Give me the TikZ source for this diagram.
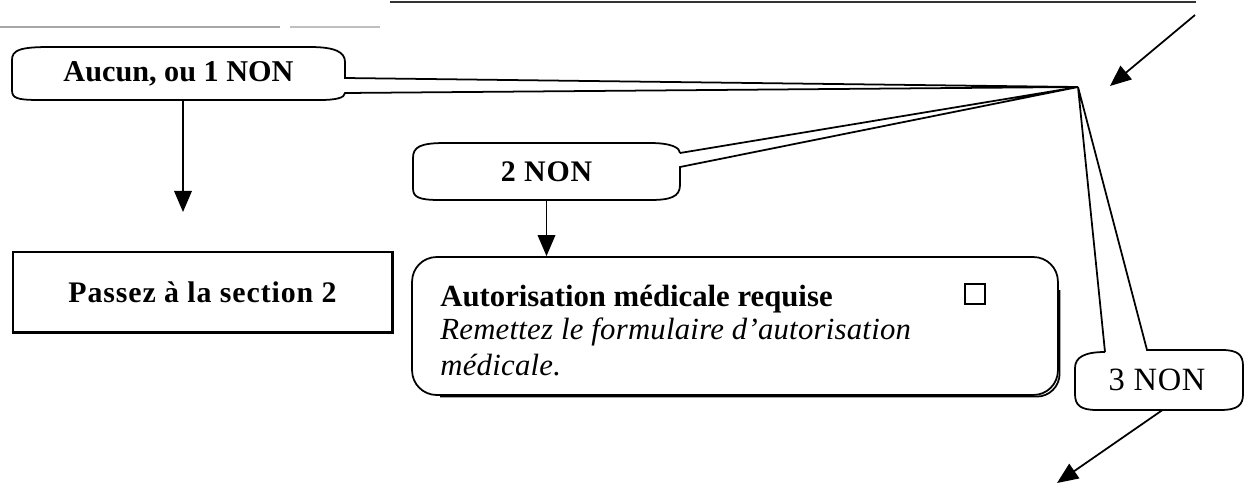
\documentclass[tikz,border=0pt]{standalone}
\usepackage{fontspec}
\setmainfont{Liberation Serif}
\usetikzlibrary{arrows.meta}
\begin{document}
\begin{tikzpicture}[x=0.02cm,y=-0.02cm,
  boxline/.style={line width=1pt},
  lbl/.style={inner sep=0pt, font=\bfseries\fontsize{17.2}{19}\selectfont},
  arr/.style={-{Triangle[length=12pt,width=10pt]}, line width=1pt},
  scan/.style={line width=1pt}]
\useasboundingbox (0,0) rectangle (1247,487);
% scan remnants
\draw[scan, black!80] (390,2) -- (1196,2);
\draw[scan, black!35] (0,27) -- (280,27);
\draw[scan, black!25] (290,27) -- (380,27);
\coordinate (tip) at (1078,87);
% labels (sized as their boxes)
\node[lbl, minimum width=6.66cm, minimum height=1.06cm] (aucun) at (178.5,73.5) {Aucun, ou 1 NON};
\node[lbl, minimum width=5.34cm, minimum height=1.14cm, font=\bfseries\fontsize{17}{19}\selectfont\addfontfeature{LetterSpace=3}] (deux) at (546.5,171.5) {2 NON};
\node[lbl, minimum width=3.36cm, minimum height=1.2cm, font=\fontsize{18.5}{20}\selectfont\addfontfeature{LetterSpace=2}] (trois) at (1157,380) {3 NON};
\node[lbl, draw, boxline, minimum width=7.58cm, minimum height=1.6cm, font=\bfseries\fontsize{17}{19}\selectfont\addfontfeature{LetterSpace=3}] (passez) at (202.5,292) {Passez à la section 2};
\draw[line width=1.6pt] (passez.south west) -- (passez.south east) -- (passez.north east);
\node[draw, boxline, rounded corners=14pt, minimum width=12.92cm, minimum height=2.76cm, inner sep=0pt] (autor) at (735,326) {};
\draw[line width=1pt, rounded corners=13pt] (1059.6,290) -- (1059.6,396.6) -- (440,396.6);
% callout outlines
\draw[boxline] (345,78) -- (tip) -- (345,93) .. controls (345,98) and (335,100) .. (320,100) -- (40,100) .. controls (16,100) and (12,98) .. (12,90) -- (12,60) .. controls (12,50) and (20,47) .. (50,47) -- (310,47) .. controls (335,47) and (345,52) .. (345,62) -- cycle;
\draw[boxline] (680,153) -- (tip) -- (680,167) -- (680,185) .. controls (680,197) and (670,200) .. (650,200) -- (440,200) .. controls (418,200) and (413,197) .. (413,188) -- (413,158) .. controls (413,147) and (420,143) .. (445,143) -- (650,143) .. controls (672,143) and (680,148) .. (680,153);
\draw[boxline] (1105,352) -- (tip) -- (1147,350) -- (1222,350) .. controls (1238,350) and (1243,355) .. (1243,366) -- (1243,394) .. controls (1243,405) and (1238,410) .. (1220,410) -- (1097,410) .. controls (1080,410) and (1075,405) .. (1075,394) -- (1075,368) .. controls (1075,357) and (1085,352) .. (1105,352);
% texts in the authorisation box
\node[anchor=base west, inner sep=0pt, font=\bfseries\fontsize{17.5}{19}\selectfont] (autt) at (440,306) {Autorisation médicale requise};
\node[draw, line width=0.9pt, minimum size=0.4cm, inner sep=0pt] (chk) at (975,294) {};
\node[anchor=base west, inner sep=0pt, font=\itshape\fontsize{17.5}{19}\selectfont\addfontfeature{LetterSpace=0.8}] (rem) at (440,339) {Remettez le formulaire d’autorisation};
\node[anchor=base west, inner sep=0pt, font=\itshape\fontsize{17.5}{19}\selectfont\addfontfeature{LetterSpace=0.8}] (med) at (440,375) {médicale.};
% arrows
\coordinate (topstart) at (1195,15);
\coordinate (topend) at (1110,86);
\draw[arr] (topstart) -- (topend);
\draw[arr] ([xshift=0.09cm]aucun.south) -- ([xshift=0.09cm]aucun.south |- 0,212);
\draw[arr] (deux.south) -- (deux.south |- autor.north);
\coordinate (downend) at (1057,483);
\draw[arr] ([xshift=0.1cm]trois.south) -- (downend);
\end{tikzpicture}
\end{document}
